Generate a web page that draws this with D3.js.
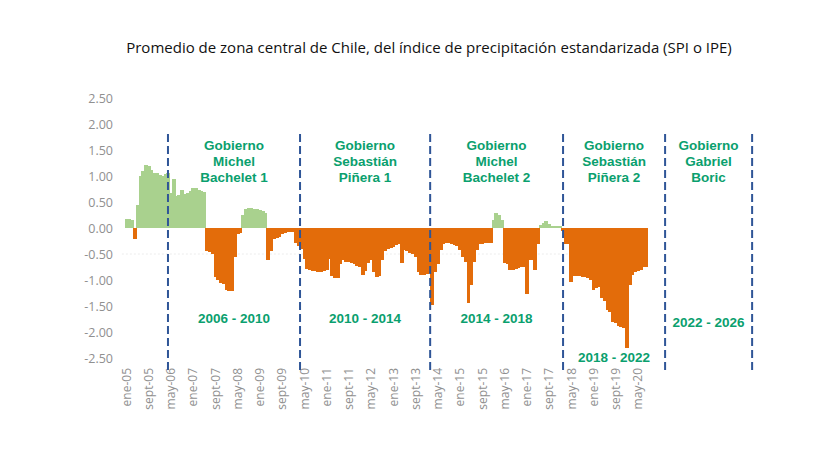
<!DOCTYPE html>
<html>
<head>
<meta charset="utf-8">
<script src="https://cdn.jsdelivr.net/npm/d3@7"></script>
<style>
  body { margin: 0; background: #fff; }
  svg { display: block; }
</style>
</head>
<body>
<div class="chart"></div>
<script>
// monthly SPI, ene-2005 .. ago-2020
var spiValues = [
  0.17, 0.17, 0.15, -0.22, 0.45, 1.0, 1.1, 1.22, 1.2, 1.12,
  1.05, 1.05, 1.02, 1.0, 1.03, 1.05, 0.67, 0.95, 0.62, 0.63,
  0.73, 0.66, 0.68, 0.72, 0.76, 0.76, 0.74, 0.72, 0.7, -0.45,
  -0.47, -0.5, -0.95, -1.0, -1.05, -1.08, -1.2, -1.22, -1.22, -0.55,
  -0.12, -0.1, 0.25, 0.37, 0.38, 0.38, 0.37, 0.36, 0.35, 0.33,
  0.28, -0.62, -0.45, -0.22, -0.2, -0.17, -0.12, -0.1, -0.08, -0.08,
  -0.07, -0.28, -0.35, -0.4, -0.6, -0.78, -0.8, -0.83, -0.83, -0.84,
  -0.84, -0.82, -0.8, -0.6, -0.93, -0.97, -0.97, -0.7, -0.62, -0.65,
  -0.66, -0.68, -0.7, -0.74, -0.75, -0.9, -0.82, -0.68, -0.62, -0.85,
  -0.95, -0.92, -0.62, -0.45, -0.4, -0.38, -0.36, -0.33, -0.3, -0.68,
  -0.42, -0.45, -0.48, -0.5, -0.55, -0.84, -0.9, -0.9, -0.88, -0.86,
  -1.48, -0.85, -0.7, -0.42, -0.3, -0.28, -0.28, -0.3, -0.32, -0.35,
  -0.42, -0.55, -0.65, -1.45, -1.1, -0.65, -0.42, -0.3, -0.3, -0.29,
  -0.29, -0.28, 0.15, 0.28, 0.25, 0.15, -0.68, -0.7, -0.8, -0.8,
  -0.78, -0.76, -0.75, -0.75, -1.26, -0.62, -0.62, -0.8, -0.3, 0.05,
  0.1, 0.13, 0.08, 0.04, 0.03, 0.03, 0.03, -0.05, -0.3, -0.3,
  -1.03, -0.92, -0.92, -0.93, -0.94, -0.95, -0.97, -1.0, -1.19, -1.15,
  -1.13, -1.35, -1.4, -1.58, -1.62, -1.8, -1.83, -1.88, -1.9, -1.93,
  -2.31, -1.1, -0.9, -0.85, -0.82, -0.8, -0.75, -0.75
];

var tickLabels = ["ene-05", "sept-05", "may-06", "ene-07", "sept-07", "may-08",
  "ene-09", "sept-09", "may-10", "ene-11", "sept-11", "may-12", "ene-13",
  "sept-13", "may-14", "ene-15", "sept-15", "may-16", "ene-17", "sept-17",
  "may-18", "ene-19", "sept-19", "may-20"];
var tickStep = 8; // months between labels

var yTicks = [2.5, 2, 1.5, 1, 0.5, 0, -0.5, -1, -1.5, -2, -2.5];

// government periods (divider positions in months from ene-05)
var dividerMonths = [15.6, 63.1, 109.9, 157.7, 194.4, 225.7];
var govNames = [
  ["Gobierno", "Michel", "Bachelet 1"],
  ["Gobierno", "Sebastián", "Piñera 1"],
  ["Gobierno", "Michel", "Bachelet 2"],
  ["Gobierno", "Sebastián", "Piñera 2"],
  ["Gobierno", "Gabriel", "Boric"]
];
var govPeriods = ["2006 - 2010", "2010 - 2014", "2014 - 2018", "2018 - 2022", "2022 - 2026"];

var titleText = "Promedio de zona central de Chile, del índice de precipitación estandarizada (SPI o IPE)";

var width = 830, height = 455;
var green = "#a9d18e", orange = "#e36c0a", blue = "#2f5597", teal = "#0aa06e";

var svg = d3.select(".chart").append("svg")
    .attr("width", width)
    .attr("height", height);

var x = d3.scaleLinear()
    .domain([0, spiValues.length])
    .range([124.6, 647.3]);

var y = d3.scaleLinear()
    .domain([-2.5, 2.5])
    .range([358, 98]);

svg.append("text")
    .attr("x", 429)
    .attr("y", 53)
    .attr("text-anchor", "middle")
    .style("font-family", "'Open Sans', sans-serif")
    .style("font-size", "15px")
    .style("fill", "#111")
    .text(titleText);

// faint line at -0.5
svg.append("line")
    .attr("x1", x(-1))
    .attr("x2", x(spiValues.length))
    .attr("y1", y(-0.5))
    .attr("y2", y(-0.5))
    .attr("stroke", "#ececec")
    .attr("stroke-dasharray", "2,2");

// y axis
var yAxis = svg.append("g")
    .attr("transform", "translate(116,0)")
    .call(d3.axisLeft(y).tickValues(yTicks).tickSize(0).tickPadding(3)
        .tickFormat(function (d) { return d.toFixed(2); }));
yAxis.select(".domain").remove();
yAxis.selectAll("text")
    .style("font-family", "'Open Sans', sans-serif")
    .style("font-size", "12.5px")
    .style("fill", "#909090");

// x axis
var tickMonths = tickLabels.map(function (d, i) { return i * tickStep + 0.5; });
var xAxis = svg.append("g")
    .attr("transform", "translate(0,364)")
    .call(d3.axisBottom(x).tickValues(tickMonths).tickSize(0)
        .tickFormat(function (d, i) { return tickLabels[i]; }));
xAxis.select(".domain").remove();
xAxis.selectAll("text")
    .attr("y", 0)
    .attr("x", -4)
    .attr("dy", "0.35em")
    .attr("transform", "rotate(-90)")
    .style("text-anchor", "end")
    .style("font-family", "'Open Sans', sans-serif")
    .style("font-size", "12px")
    .style("fill", "#909090");

// bars
var step = x(1) - x(0);
svg.append("g")
    .attr("shape-rendering", "crispEdges")
    .selectAll("rect")
    .data(spiValues)
    .enter()
    .append("rect")
    .attr("x", function (d, i) { return x(i); })
    .attr("width", step + 1)
    .attr("y", function (d) { return y(Math.max(0, d)); })
    .attr("height", function (d) { return Math.abs(y(d) - y(0)); })
    .style("fill", function (d) { return d >= 0 ? green : orange; });

// dividers
svg.append("g").selectAll("line")
    .data(dividerMonths)
    .enter()
    .append("line")
    .attr("x1", function (d) { return x(d); })
    .attr("x2", function (d) { return x(d); })
    .attr("y1", 134)
    .attr("y2", 370)
    .attr("stroke", blue)
    .attr("stroke-width", 2)
    .attr("stroke-dasharray", "8,4");

// government labels
var gov = svg.append("g").selectAll("g")
    .data(govNames)
    .enter()
    .append("g");

gov.append("text")
    .attr("text-anchor", "middle")
    .style("font-family", "'Liberation Sans', Arial, sans-serif")
    .style("font-weight", "bold")
    .style("font-size", "13.5px")
    .style("fill", teal)
    .selectAll("tspan")
    .data(function (d, i) { return d.map(function (t) { return { t: t, i: i }; }); })
    .enter()
    .append("tspan")
    .attr("x", function (d) { return (x(dividerMonths[d.i]) + x(dividerMonths[d.i + 1])) / 2; })
    .attr("y", function (d, j) { return 150 + j * 16; })
    .text(function (d) { return d.t; });

gov.append("text")
    .attr("text-anchor", "middle")
    .attr("x", function (d, i) { return (x(dividerMonths[i]) + x(dividerMonths[i + 1])) / 2; })
    .attr("y", function (d, i) { return i === 3 ? 362 : (i === 4 ? 327 : 323); })
    .style("font-family", "'Liberation Sans', Arial, sans-serif")
    .style("font-weight", "bold")
    .style("font-size", "13.5px")
    .style("fill", teal)
    .text(function (d, i) { return govPeriods[i]; });
</script>
</body>
</html>
